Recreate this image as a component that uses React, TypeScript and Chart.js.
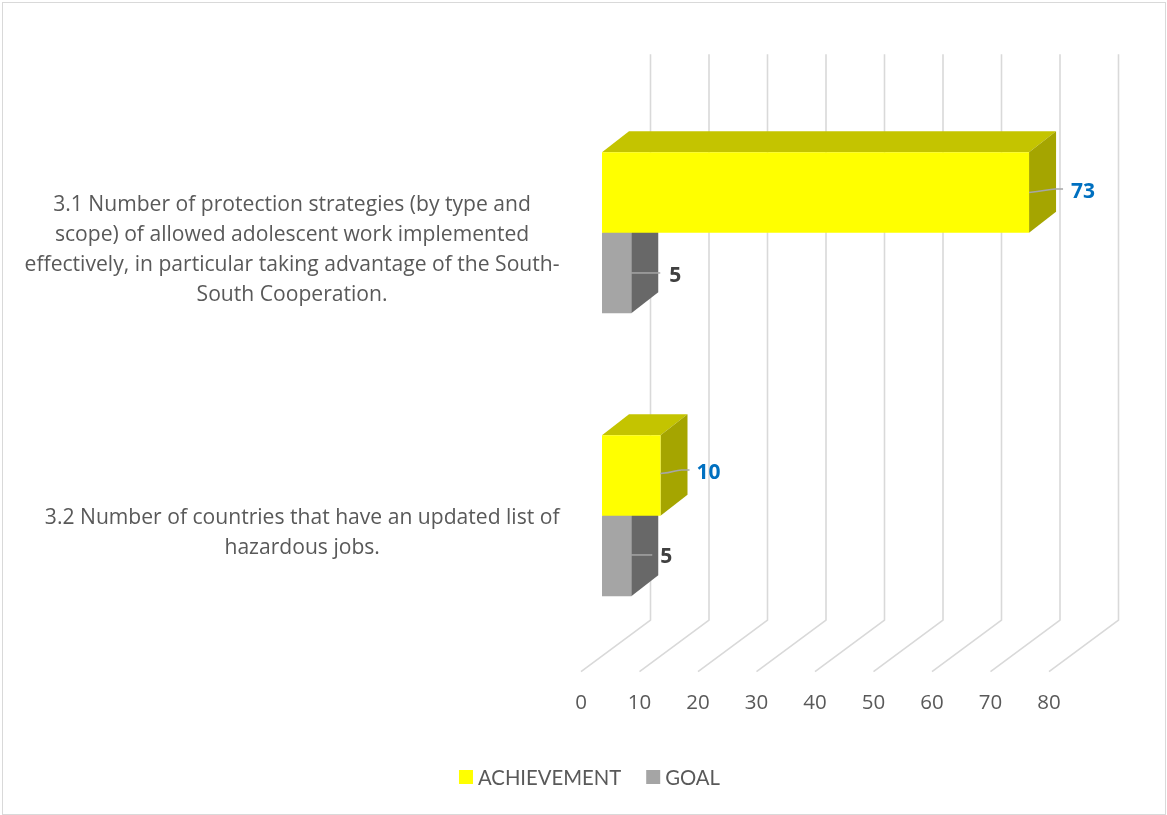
import React, { useEffect, useRef } from "react";
import { Chart, registerables } from "chart.js";

Chart.register(...registerables);

const categoryLines = [
  [
    "3.1 Number of protection strategies (by type and",
    "scope) of allowed adolescent work implemented",
    "effectively, in particular taking advantage of the South-",
    "South Cooperation.",
  ],
  ["3.2 Number of countries that have an updated list of", "hazardous jobs."],
];
const categories = categoryLines.map((lines) => lines.join(" "));
const achievement = [73, 10];
const goal = [5, 5];
const seriesNames = ["ACHIEVEMENT", "GOAL"];

const FONT = "'Open Sans', sans-serif";
const LEGEND_FONT = "Lato, sans-serif";
const GRID = "#d9d9d9";
const TEXT = "#595959";
const LEADER = "#a6a6a6";

// Projection of the pseudo-3D box: floor front edge, bar depth and back wall, in canvas pixels.
const FRONT = { dx: -21, dy: 14.5 };
const BAR_DEPTH = { dx: 27, dy: -21 };
const WALL = { dx: 48.5, dy: -37 };
const CATEGORY_LABEL_DROP = 17.5;

const faceColours = [
  { front: "#ffff00", top: "#c4c400", side: "#a5a500" },
  { front: "#a5a5a5", top: "#848484", side: "#686868" },
];

// Leader line and label placement for each data label, relative to the bar end and centre.
const labelLayout = [
  [
    { colour: "#0070c0", lineStartY: 0, lineEndX: 34, lineEndY: -3.5, textX: 42, textY: -0.5, curved: true },
    { colour: "#0070c0", lineStartY: -2, lineEndX: 29, lineEndY: -5.5, textX: 36, textY: -2.5, curved: true },
  ],
  [
    { colour: "#404040", lineStartY: 0, lineEndX: 29, lineEndY: 0, textX: 38, textY: 3.5, curved: false },
    { colour: "#404040", lineStartY: -1, lineEndX: 21, lineEndY: -1, textX: 29, textY: 1, curved: false },
  ],
];

function polygon(ctx: CanvasRenderingContext2D, pts: number[][], fill: string) {
  ctx.beginPath();
  pts.forEach(([x, y], i) => (i ? ctx.lineTo(x, y) : ctx.moveTo(x, y)));
  ctx.closePath();
  ctx.fillStyle = fill;
  ctx.fill();
}

const boxPlugin = {
  id: "box3d",
  beforeDraw(chart: any) {
    const { ctx, width, height } = chart;
    ctx.save();
    ctx.fillStyle = "#ffffff";
    ctx.fillRect(0, 0, width, height);
    ctx.strokeStyle = GRID;
    ctx.lineWidth = 1;
    ctx.strokeRect(2.5, 2.5, width - 4, height - 3);
    ctx.restore();
  },
  // Back wall and floor lines, one per x tick.
  beforeDatasetsDraw(chart: any) {
    const { ctx, chartArea, scales } = chart;
    const x = scales.x;
    ctx.save();
    ctx.strokeStyle = GRID;
    ctx.lineWidth = 1.6;
    ctx.lineJoin = "round";
    x.ticks.forEach((tick: any) => {
      const px = x.getPixelForValue(tick.value);
      ctx.beginPath();
      ctx.moveTo(px + WALL.dx, chartArea.top + WALL.dy);
      ctx.lineTo(px + WALL.dx, chartArea.bottom + WALL.dy);
      ctx.lineTo(px + FRONT.dx, chartArea.bottom + FRONT.dy);
      ctx.stroke();
    });
    ctx.restore();
  },
  // Top and side faces go down just before the dataset's own front faces.
  beforeDatasetDraw(chart: any, args: any) {
    const { ctx } = chart;
    const colours = faceColours[args.index];
    chart.getDatasetMeta(args.index).data.forEach((bar: any) => {
      const t = bar.y - bar.height / 2;
      const b = bar.y + bar.height / 2;
      const l = bar.base;
      const r = bar.x;
      const { dx, dy } = BAR_DEPTH;
      polygon(ctx, [[l, t], [l + dx, t + dy], [r + dx, t + dy], [r, t]], colours.top);
      polygon(ctx, [[r, t], [r + dx, t + dy], [r + dx, b + dy], [r, b]], colours.side);
    });
  },
  afterDatasetsDraw(chart: any) {
    const { ctx, scales } = chart;
    ctx.save();

    // Data labels with their leader lines.
    chart.data.datasets.forEach((dataset: any, di: number) => {
      chart.getDatasetMeta(di).data.forEach((bar: any, i: number) => {
        const p = labelLayout[di][i];
        const sy = bar.y + p.lineStartY;
        const ex = bar.x + p.lineEndX;
        const ey = bar.y + p.lineEndY;
        ctx.strokeStyle = LEADER;
        ctx.lineWidth = 1.5;
        ctx.beginPath();
        ctx.moveTo(bar.x, sy);
        if (p.curved) {
          ctx.bezierCurveTo(bar.x + 14, sy - 1, ex - 16, ey + 0.5, ex - 8, ey);
        }
        ctx.lineTo(ex, ey);
        ctx.stroke();
        ctx.fillStyle = p.colour;
        ctx.font = `bold 21px ${FONT}`;
        ctx.textAlign = "left";
        ctx.textBaseline = "middle";
        ctx.fillText(String(dataset.data[i]), bar.x + p.textX, bar.y + p.textY);
      });
    });

    // Wrapped category labels, each block centred on its longest line.
    const y = scales.y;
    const labelRight = 559.5;
    const lineHeight = 30;
    ctx.font = `21.1px ${FONT}`;
    ctx.fillStyle = TEXT;
    ctx.textAlign = "center";
    ctx.textBaseline = "middle";
    categoryLines.forEach((lines, i) => {
      const widest = Math.max(...lines.map((l) => ctx.measureText(l).width));
      const cx = labelRight - widest / 2;
      const cy = y.getPixelForValue(i) + CATEGORY_LABEL_DROP;
      lines.forEach((line, k) => {
        ctx.fillText(line, cx, cy + (k - (lines.length - 1) / 2) * lineHeight);
      });
    });

    // Legend row, centred under the plot.
    const box = 14;
    const boxGap = 5;
    const itemGap = 25;
    const legendY = 777;
    ctx.font = `20.3px ${LEGEND_FONT}`;
    ctx.textAlign = "left";
    const widths = chart.data.datasets.map((d: any) => ctx.measureText(d.label).width);
    const total =
      widths.reduce((a: number, w: number) => a + w + box + boxGap, 0) +
      itemGap * (widths.length - 1);
    let lx = 589.5 - total / 2;
    chart.data.datasets.forEach((d: any, i: number) => {
      ctx.fillStyle = d.backgroundColor;
      ctx.fillRect(lx, legendY - box / 2, box, box);
      ctx.fillStyle = TEXT;
      ctx.fillText(d.label, lx + box + boxGap, legendY + 1);
      lx += box + boxGap + widths[i] + itemGap;
    });
    ctx.restore();
  },
};

export default function App() {
  const canvasRef = useRef<HTMLCanvasElement>(null);

  useEffect(() => {
    const chart = new Chart(canvasRef.current as HTMLCanvasElement, {
      type: "bar",
      data: {
        labels: categories,
        datasets: [
          { label: seriesNames[0], data: achievement, backgroundColor: faceColours[0].front },
          { label: seriesNames[1], data: goal, backgroundColor: faceColours[1].front },
        ],
      },
      options: {
        indexAxis: "y",
        responsive: false,
        animation: false,
        layout: { padding: { left: 602, right: 97, top: 91.2, bottom: 0 } },
        datasets: { bar: { categoryPercentage: 0.569, barPercentage: 1 } },
        scales: {
          x: {
            min: 0,
            max: 80,
            grid: { display: false },
            border: { display: false },
            afterFit(scale: any) {
              scale.height = 157.8;
            },
            ticks: {
              stepSize: 10,
              autoSkip: false,
              maxRotation: 0,
              labelOffset: FRONT.dx,
              padding: 26,
              color: TEXT,
              font: { family: FONT, size: 20.5 },
            },
          },
          y: { display: false },
        },
        plugins: { legend: { display: false }, tooltip: { enabled: false } },
      },
      plugins: [boxPlugin],
    } as any);
    return () => chart.destroy();
  }, []);

  return (
    <div style={{ position: "absolute", left: 0, top: 0 }}>
      <canvas ref={canvasRef} width={1167} height={815} style={{ display: "block" }} />
    </div>
  );
}
